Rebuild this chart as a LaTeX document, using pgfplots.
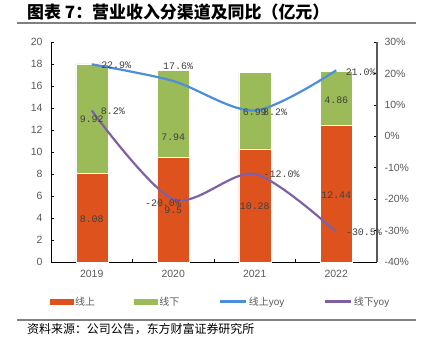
\documentclass[border=0pt]{standalone}
\usepackage{pgfplots}
\pgfplotsset{compat=1.18}
\usepackage{fontspec}
\setmainfont{Liberation Sans}
\newfontfamily\cjk{Noto Sans CJK SC}
\newfontfamily\lab{Liberation Mono}
\definecolor{cOrange}{RGB}{222,82,30}
\definecolor{cGreen}{RGB}{155,187,89}
\definecolor{cBlue}{RGB}{76,142,218}
\definecolor{cPurple}{RGB}{128,96,165}
\definecolor{tgray}{RGB}{89,89,89}
\definecolor{lgray}{RGB}{64,64,64}
\definecolor{rgray}{RGB}{128,128,128}
\tikzset{dl/.style={font=\lab\fontsize{10}{12}\selectfont, text=lgray, inner sep=0pt}}
\begin{document}
\begin{tikzpicture}
\path[use as bounding box] (0,0) rectangle (421bp,349bp);
\node[anchor=west, inner sep=0pt] at (27bp,337bp) {\cjk\bfseries\fontsize{17}{19}\selectfont 图表 7：营业收入分渠道及同比（亿元）};
\draw[rgray, line width=1.2bp] (17bp,326bp) -- (416bp,326bp);
\draw[rgray, line width=1.2bp] (17bp,29bp) -- (416bp,29bp);
\node[anchor=west, inner sep=0pt] at (27bp,20bp) {\cjk\fontsize{12}{14}\selectfont 资料来源：公司公告，东方财富证券研究所};

\begin{axis}[
  scale only axis, width=326bp, height=220bp,
  at={(51bp,87bp)}, anchor=south west,
  xmin=-0.5, xmax=3.5, ymin=0, ymax=20,
  axis x line*=bottom, axis y line*=left,
  axis line style={black, line width=0.9bp},
  ytick={0,2,...,20},
  xtick={0.5,1.5,2.5}, xticklabels={},
  extra x ticks={0,1,2,3}, extra x tick labels={2019,2020,2021,2022},
  extra x tick style={major tick length=0pt},
  tick align=inside, major tick length=3bp,
  tick style={black, line width=0.6bp},
  /pgf/number format/assume math mode=true,
  tick label style={font=\fontsize{10.5}{12}\selectfont, text=tgray},
  yticklabel style={xshift=-5bp},
  xticklabel style={yshift=-5bp},
  ybar stacked, bar width=32bp,
  clip=false,
]
\addplot[fill=cOrange, draw=white, line width=0.4bp] coordinates {(0,8.08) (1,9.5) (2,10.28) (3,12.44)};
\addplot[fill=cGreen, draw=white, line width=0.4bp] coordinates {(0,9.92) (1,7.94) (2,6.99) (3,4.86)};
\end{axis}

\begin{axis}[
  scale only axis, width=326bp, height=220bp,
  at={(51bp,87bp)}, anchor=south west,
  xmin=-0.5, xmax=3.5, ymin=-40, ymax=30,
  axis x line=none, axis y line*=right,
  axis line style={color=tgray, line width=1.5bp},
  ytick={-40,-30,...,30},
  yticklabel={\pgfmathprintnumber{\tick}\%},
  tick align=inside, major tick length=3bp,
  tick style={black, line width=0.6bp},
  /pgf/number format/assume math mode=true,
  tick label style={font=\fontsize{10.5}{12}\selectfont, text=tgray},
  yticklabel style={xshift=4bp},
  clip=false,
  legend columns=4,
  legend style={at={(0.52,-0.18)}, anchor=center, draw=none, fill=none,
    font=\fontsize{10}{12}\selectfont, text=tgray,
    /tikz/every even column/.append style={column sep=37bp}},
]
\addlegendimage{legend image code/.code={\fill[cOrange] (0bp,-2.5bp) rectangle (23bp,2.5bp);}}
\addlegendentry{\cjk 线上}
\addlegendimage{legend image code/.code={\fill[cGreen] (0bp,-2.5bp) rectangle (23bp,2.5bp);}}
\addlegendentry{\cjk 线下}
\addplot[cBlue, line width=2.2bp, smooth, legend image code/.code={\draw[cBlue, line width=2.5bp] (0bp,0bp) -- (26bp,0bp);}] coordinates {(0,22.9) (1,17.6) (2,8.2) (3,21.0)};
\addlegendentry{{\cjk 线上}yoy}
\addplot[cPurple, line width=2.2bp, smooth, legend image code/.code={\draw[cPurple, line width=2.5bp] (0bp,0bp) -- (26bp,0bp);}] coordinates {(0,8.2) (1,-20.0) (2,-12.0) (3,-30.5)};
\addlegendentry{{\cjk 线下}yoy}
% bar value labels (positions converted to the right axis scale)
\node[dl] at (axis cs:0,-26.35) {8.08};
\node[dl] at (axis cs:1,-23.45) {9.5};
\node[dl] at (axis cs:2,-22.15) {10.28};
\node[dl] at (axis cs:3,-18.65) {12.44};
\node[dl] at (axis cs:0,5.5) {9.92};
\node[dl] at (axis cs:1,-0.24) {7.94};
\node[dl] at (axis cs:2,7.6) {6.99};
\node[dl] at (axis cs:3,11.45) {4.86};
% yoy labels
\node[dl] at (axis cs:0.30,22.68) {22.9\%};
\node[dl] at (axis cs:1.06,22.36) {17.6\%};
\node[dl] at (axis cs:2.25,7.73) {8.2\%};
\node[dl] at (axis cs:3.30,20.45) {21.0\%};
\node[dl] at (axis cs:0.26,8.05) {8.2\%};
\node[dl] at (axis cs:0.874,-21.2) {-20.0\%};
\node[dl] at (axis cs:2.33,-12.0) {-12.0\%};
\node[dl] at (axis cs:3.34,-30.45) {-30.5\%};
\end{axis}
\end{tikzpicture}
\end{document}
